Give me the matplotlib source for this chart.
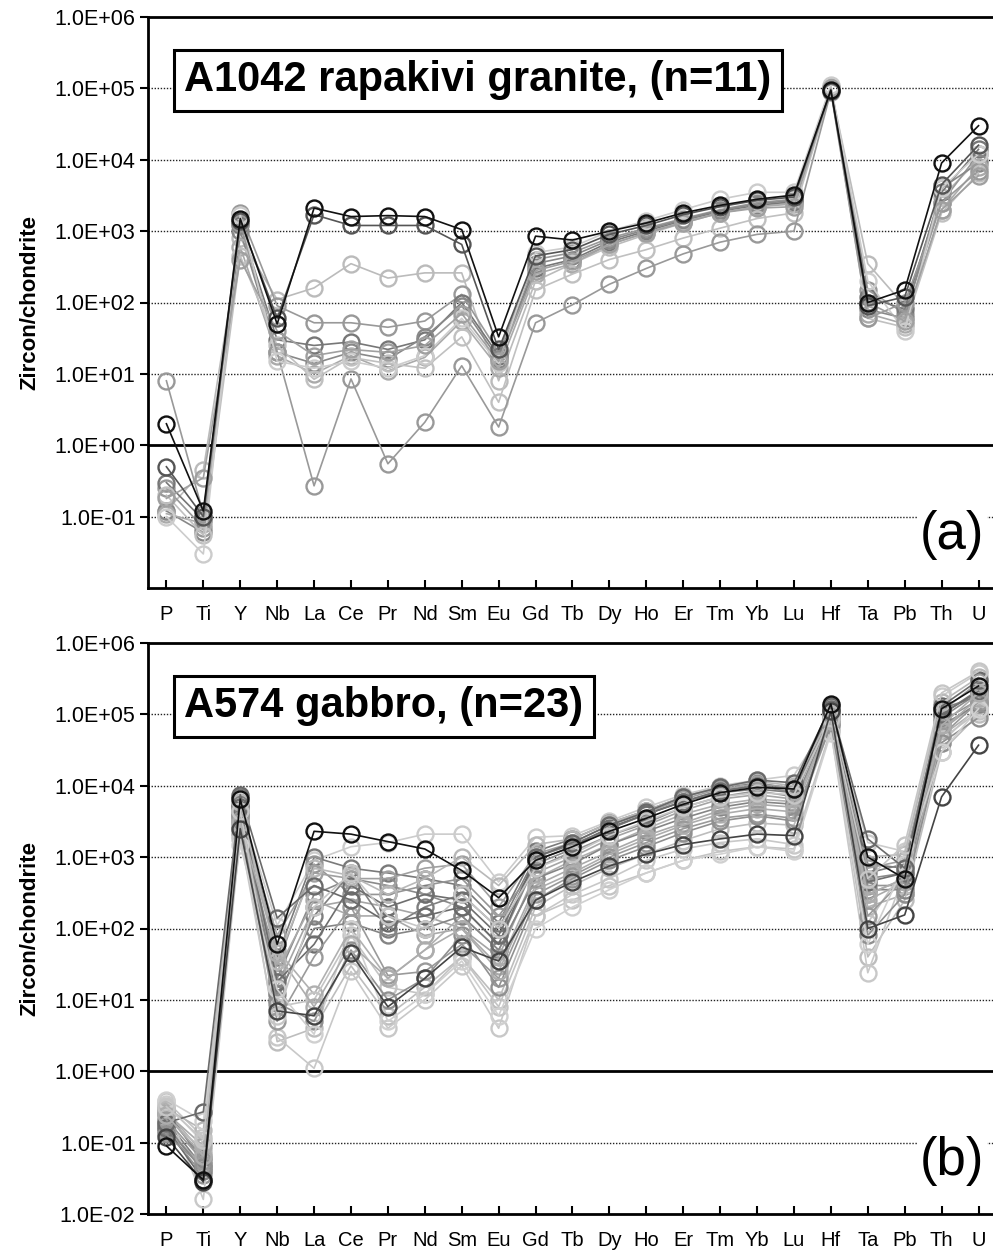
import matplotlib
matplotlib.use("Agg")
import matplotlib.pyplot as plt
from matplotlib.ticker import FixedLocator, NullLocator

plt.rcParams['font.family'] = ['Liberation Sans', 'DejaVu Sans']

elements = ["P", "Ti", "Y", "Nb", "La", "Ce", "Pr", "Nd", "Sm", "Eu", "Gd", "Tb",
            "Dy", "Ho", "Er", "Tm", "Yb", "Lu", "Hf", "Ta", "Pb", "Th", "U"]

ytick_vals_a = [1e-1, 1e0, 1e1, 1e2, 1e3, 1e4, 1e5, 1e6]
ytick_labels_a = ["1.0E-01", "1.0E+00", "1.0E+01", "1.0E+02", "1.0E+03", "1.0E+04", "1.0E+05", "1.0E+06"]
ytick_vals_b = [1e-2] + ytick_vals_a
ytick_labels_b = ["1.0E-02"] + ytick_labels_a

# (a) A1042 rapakivi granite, 11 zircons (zircon/chondrite)
a_colors = ['#bbbbbb', '#999999', '#777777', '#888888', '#aaaaaa', '#c0c0c0',
            '#999999', '#cccccc', '#a0a0a0', '#555555', '#111111']
a_data = [
    [0.12, 0.45, 800, 110, 160, 350, 220, 260, 260, 8, 200, 350, 600, 900, 1300, 1800, 2200, 2500, 100000, 350, 90, 3000, 10000],
    [0.25, 0.07, 1800, 90, 52, 52, 45, 55, 130, 20, 400, 500, 800, 1100, 1500, 2000, 2500, 2800, 105000, 150, 70, 2500, 12000],
    [0.3, 0.09, 1200, 30, 25, 28, 22, 30, 100, 18, 300, 400, 700, 1000, 1400, 1900, 2300, 2600, 98000, 120, 80, 3500, 14000],
    [0.12, 0.06, 1000, 20, 14, 20, 16, 33, 90, 16, 350, 450, 750, 1050, 1450, 1950, 2400, 2700, 97000, 80, 60, 4000, 9000],
    [0.11, 0.08, 600, 18, 10, 18, 11, 17, 55, 12, 250, 350, 650, 950, 1350, 1800, 2200, 2400, 100000, 70, 50, 2000, 8000],
    [0.2, 0.055, 450, 25, 8.4, 17, 14, 12, 33, 4, 150, 250, 400, 550, 800, 1100, 1500, 1800, 95000, 60, 45, 1800, 6500],
    [8, 0.11, 1300, 20, 0.27, 8.5, 0.55, 2.1, 13, 1.8, 52, 93, 180, 300, 480, 700, 900, 1000, 90000, 60, 100, 2500, 7000],
    [0.1, 0.03, 1700, 15, 12, 15, 12, 18, 60, 14, 500, 600, 1000, 1400, 2000, 2800, 3500, 3500, 110000, 200, 40, 4000, 12000],
    [0.18, 0.35, 400, 40, 18, 22, 20, 25, 70, 15, 280, 380, 650, 950, 1300, 1800, 2100, 2200, 100000, 100, 55, 2000, 6000],
    [0.5, 0.10, 1400, 60, 1700, 1200, 1200, 1200, 650, 22, 450, 550, 900, 1200, 1700, 2200, 2700, 3000, 92000, 90, 120, 4500, 16000],
    [2.0, 0.12, 1500, 50, 2100, 1600, 1650, 1600, 1050, 33, 850, 750, 1000, 1300, 1800, 2300, 2800, 3200, 95000, 100, 150, 9000, 30000],
]

# (b) A574 gabbro, 23 zircons (zircon/chondrite)
b_colors = ['#cccccc', '#7a7a7a', '#8a8a8a', '#a5a5a5', '#7f7f7f', '#959595', '#b0b0b0',
            '#bdbdbd', '#c8c8c8', '#a0a0a0', '#858585', '#aaaaaa', '#c4c4c4', '#6e6e6e',
            '#9a9a9a', '#b8b8b8', '#909090', '#d0d0d0', '#6a6a6a', '#adadad', '#c6c6c6',
            '#444444', '#111111']
b_data = [
    [0.35, 0.10, 5200, 110, 900, 1400, 1600, 2100, 2100, 450, 1900, 2000, 3200, 5000, 7500, 10000, 12000, 14000, 90000, 1600, 1200, 180000, 380000],
    [0.25, 0.06, 7000, 40, 1000, 700, 600, 500, 400, 120, 1200, 1800, 3000, 4500, 7000, 9500, 11000, 9000, 130000, 800, 700, 100000, 220000],
    [0.30, 0.05, 4500, 20, 300, 500, 400, 300, 200, 60, 800, 1300, 2500, 4000, 6000, 8500, 10000, 8000, 120000, 500, 600, 90000, 200000],
    [0.18, 0.04, 3500, 15, 200, 250, 200, 150, 100, 40, 600, 1000, 1800, 2800, 4500, 6500, 7500, 6500, 110000, 300, 500, 60000, 150000],
    [0.20, 0.045, 5500, 10, 150, 600, 100, 200, 300, 100, 1000, 1500, 2500, 4000, 6000, 8000, 9000, 8000, 100000, 600, 800, 120000, 180000],
    [0.15, 0.035, 3000, 30, 800, 300, 300, 400, 500, 150, 700, 1200, 2000, 3000, 5000, 7000, 8500, 7000, 95000, 400, 400, 80000, 160000],
    [0.28, 0.07, 4000, 50, 12, 100, 20, 50, 150, 50, 500, 900, 1500, 2500, 4000, 5500, 6500, 6000, 80000, 200, 300, 50000, 120000],
    [0.22, 0.08, 2800, 2.6, 4, 30, 6, 15, 40, 10, 200, 400, 700, 1100, 1700, 2500, 3000, 2800, 70000, 40, 250, 30000, 100000],
    [0.33, 0.016, 2000, 3, 1.1, 25, 4, 10, 30, 4, 150, 300, 500, 900, 1300, 1600, 1800, 1500, 60000, 24, 600, 40000, 130000],
    [0.14, 0.05, 4200, 80, 600, 500, 500, 700, 800, 200, 1100, 1600, 2800, 4200, 6500, 9000, 10500, 9500, 115000, 700, 900, 110000, 280000],
    [0.17, 0.04, 3800, 12, 100, 120, 80, 100, 150, 50, 500, 800, 1500, 2300, 3500, 5000, 6000, 5500, 90000, 350, 350, 70000, 140000],
    [0.26, 0.09, 2200, 25, 250, 150, 150, 80, 100, 30, 400, 700, 1200, 2000, 3000, 4500, 5500, 5000, 85000, 250, 450, 60000, 170000],
    [0.38, 0.12, 1800, 8, 10, 80, 15, 12, 40, 8, 150, 250, 400, 600, 900, 1200, 1400, 1300, 60000, 120, 700, 45000, 110000],
    [0.16, 0.03, 5000, 18, 60, 400, 200, 300, 250, 80, 900, 1400, 2600, 4000, 6000, 8500, 10000, 9000, 120000, 450, 600, 100000, 210000],
    [0.21, 0.055, 3300, 5, 40, 200, 22, 25, 60, 20, 300, 550, 1000, 1600, 2500, 3500, 4000, 3500, 75000, 150, 500, 50000, 150000],
    [0.30, 0.15, 6000, 35, 700, 550, 300, 500, 1000, 400, 1500, 1800, 3000, 4500, 7000, 9500, 11500, 10000, 100000, 1000, 1100, 150000, 330000],
    [0.13, 0.045, 2600, 9, 5, 50, 10, 20, 80, 15, 250, 500, 900, 1400, 2200, 3200, 3800, 3200, 70000, 80, 300, 40000, 90000],
    [0.40, 0.20, 1500, 14, 3.3, 100, 5, 12, 35, 6, 100, 200, 350, 600, 900, 1100, 1400, 1200, 55000, 60, 800, 30000, 120000],
    [0.19, 0.27, 7500, 140, 400, 250, 120, 150, 200, 60, 1000, 1600, 2800, 4300, 7000, 9500, 12000, 11000, 130000, 1800, 700, 130000, 300000],
    [0.24, 0.065, 3000, 45, 8, 60, 20, 50, 100, 25, 350, 600, 1100, 1800, 2800, 4000, 4800, 4300, 80000, 300, 500, 70000, 200000],
    [0.32, 0.11, 4500, 6, 200, 600, 150, 100, 300, 100, 700, 1100, 2000, 3200, 5000, 7000, 8000, 7500, 90000, 500, 1500, 200000, 400000],
    [0.12, 0.028, 2500, 7, 6, 45, 8, 20, 55, 35, 250, 450, 750, 1100, 1500, 1800, 2100, 2000, 110000, 100, 155, 7000, 37000],
    [0.09, 0.030, 6500, 60, 2300, 2100, 1650, 1300, 650, 270, 900, 1400, 2300, 3500, 5500, 8000, 9500, 9000, 140000, 1000, 500, 120000, 250000],
]


def draw_panel(ax, data, colors, title, tag, yvals, ylabels):
    x = list(range(len(elements)))
    for vals, c in zip(data, colors):
        ax.plot(x, vals, color=c, lw=1.2, marker='o', ms=11.5, mfc='none',
                mec=c, mew=1.7, zorder=3)
    ax.set_yscale('log')
    ax.set_ylim(1e-2, 1e6)
    ax.set_xlim(-0.5, 22.5)

    # dotted grid at the decades, solid line at 1
    for v in [1e-1, 1e1, 1e2, 1e3, 1e4, 1e5]:
        ax.axhline(v, color='#222222', lw=1.0, ls=(0, (1, 1.2)), zorder=1)
    ax.axhline(1.0, color='black', lw=2.0, zorder=2)

    ax.yaxis.set_major_locator(FixedLocator(yvals))
    ax.yaxis.set_minor_locator(NullLocator())
    ax.set_yticklabels(ylabels, fontsize=15.5)
    ax.tick_params(axis='y', direction='out', length=6, width=1.5, pad=3)
    ax.set_xticks(x)
    ax.set_xticklabels(elements, fontsize=14.5)
    ax.tick_params(axis='x', direction='in', length=6, width=1.5, pad=12)

    for s in ['left', 'bottom', 'top']:
        ax.spines[s].set_linewidth(2.0)
    ax.spines['right'].set_visible(False)

    ax.text(0.043, 0.889, title, transform=ax.transAxes, fontsize=30,
            fontweight='bold', va='center', ha='left', zorder=5,
            bbox=dict(boxstyle='square,pad=0.25', fc='white', ec='black', lw=2.2))
    ax.text(0.985, 0.092, tag, transform=ax.transAxes, fontsize=38,
            va='center', ha='right', zorder=5,
            bbox=dict(boxstyle='square,pad=0.05', fc='white', ec='none'))
    ax.set_ylabel("Zircon/chondrite", fontsize=16, fontweight='bold', labelpad=10)


fig = plt.figure(figsize=(9.93, 12.5), dpi=100)
ax_a = fig.add_axes([0.149, 0.5296, 0.855, 0.4568])
ax_b = fig.add_axes([0.149, 0.0288, 0.855, 0.4568])

draw_panel(ax_a, a_data, a_colors, "A1042 rapakivi granite, (n=11)", "(a)",
           ytick_vals_a, ytick_labels_a)
draw_panel(ax_b, b_data, b_colors, "A574 gabbro, (n=23)", "(b)",
           ytick_vals_b, ytick_labels_b)

fig.savefig("out.png", dpi=100)
